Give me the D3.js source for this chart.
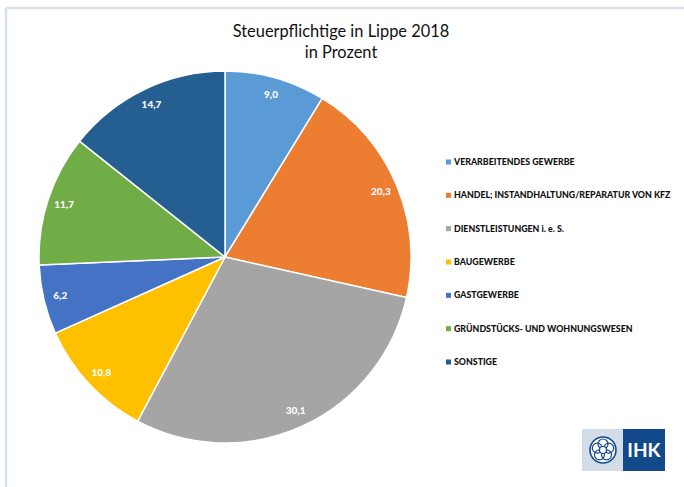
<!DOCTYPE html>
<html>
<head>
<meta charset="utf-8">
<script src="https://cdn.jsdelivr.net/npm/d3@7"></script>
<style>
  html, body { margin: 0; padding: 0; background: #ffffff; }
  svg { display: block; }
</style>
</head>
<body>
<svg id="chart" width="684" height="487"></svg>
<script>
const titleLines = ["Steuerpflichtige in Lippe 2018", "in Prozent"];
const categories = [
  "VERARBEITENDES GEWERBE",
  "HANDEL; INSTANDHALTUNG/REPARATUR VON KFZ",
  "DIENSTLEISTUNGEN i. e. S.",
  "BAUGEWERBE",
  "GASTGEWERBE",
  "GRÜNDSTÜCKS- UND WOHNUNGSWESEN",
  "SONSTIGE"
];
const values = [9.0, 20.3, 30.1, 10.8, 6.2, 11.7, 14.7];
const colors = ["#5B9BD5", "#ED7D31", "#A5A5A5", "#FFC000", "#4472C4", "#70AD47", "#255E91"];

const svg = d3.select("#chart");
const W = 684, H = 487;

// frame lines (top and left)
svg.append("line").attr("x1", 6).attr("x2", W).attr("y1", 8).attr("y2", 8)
  .attr("stroke", "#d6e0ea").attr("stroke-width", 2.5);
svg.append("line").attr("x1", 6).attr("x2", 6).attr("y1", 8).attr("y2", H)
  .attr("stroke", "#d6e0ea").attr("stroke-width", 2.5);

// title
const title = svg.append("text").attr("text-anchor", "middle")
  .attr("font-family", "Lato, 'Open Sans', sans-serif").attr("font-size", 16.4).attr("fill", "#111");
titleLines.forEach((t, i) => {
  title.append("tspan").attr("x", 341).attr("y", 37 + i * 21).text(t);
});

// pie
const cx = 225, cy = 257, R = 186;
const fmt = v => d3.format(".1f")(v).replace(".", ",");
const pie = d3.pie().sort(null).value(d => d.v);
const data = categories.map((c, i) => ({ c, v: values[i], col: colors[i] }));
const arcs = pie(data);
const arc = d3.arc().innerRadius(0).outerRadius(R);
const labelArc = d3.arc().innerRadius(R * 0.91).outerRadius(R * 0.91);

const g = svg.append("g").attr("transform", `translate(${cx},${cy})`);
g.selectAll("path.slice").data(arcs).enter().append("path")
  .attr("class", "slice")
  .attr("d", arc)
  .attr("fill", d => d.data.col)
  .attr("stroke", "#ffffff").attr("stroke-width", 1.5).attr("stroke-linejoin", "round");

g.selectAll("text.lbl").data(arcs).enter().append("text")
  .attr("class", "lbl")
  .attr("transform", d => `translate(${labelArc.centroid(d)})`)
  .attr("text-anchor", "middle").attr("dy", "0.35em")
  .attr("font-family", "Lato, 'Open Sans', sans-serif").attr("font-weight", "900")
  .attr("font-size", 10).attr("fill", "#ffffff")
  .text(d => fmt(d.data.v));

// legend
const legend = svg.append("g");
const ly = d3.scalePoint().domain(categories).range([162, 362]);
categories.forEach((c, i) => {
  const y = ly(c);
  legend.append("rect").attr("x", 446).attr("y", y - 2.5).attr("width", 5).attr("height", 5).attr("fill", colors[i]);
  legend.append("text").attr("x", 454).attr("y", y).attr("dy", "0.35em")
    .attr("font-family", "Lato, 'Open Sans', sans-serif").attr("font-weight", "900")
    .attr("font-size", 8.8).attr("fill", "#111").text(c);
});

// IHK logo
const logo = svg.append("g").attr("transform", "translate(582,429)");
logo.append("rect").attr("x", 0).attr("y", 0).attr("width", 41).attr("height", 42).attr("fill", "#d3dde8");
logo.append("rect").attr("x", 41).attr("y", 0).attr("width", 42).attr("height", 42).attr("fill", "#12498a");
const rose = logo.append("g").attr("transform", "translate(21,21)");
rose.append("circle").attr("r", 13).attr("fill", "#ffffff").attr("stroke", "#12498a").attr("stroke-width", 1.6);
d3.range(5).forEach(k => {
  const a = k * 72 * Math.PI / 180;
  rose.append("circle").attr("cx", Math.sin(a) * 6).attr("cy", -Math.cos(a) * 6).attr("r", 5)
    .attr("fill", "none").attr("stroke", "#12498a").attr("stroke-width", 1.2);
});
rose.append("circle").attr("r", 3.5).attr("fill", "#ffffff").attr("stroke", "#12498a").attr("stroke-width", 1.2);
logo.append("text").attr("x", 62).attr("y", 21).attr("dy", "0.36em").attr("text-anchor", "middle")
  .attr("font-family", "Lato, 'Open Sans', sans-serif").attr("font-weight", "bold")
  .attr("font-size", 19).attr("fill", "#ffffff").text("IHK");
</script>
</body>
</html>
